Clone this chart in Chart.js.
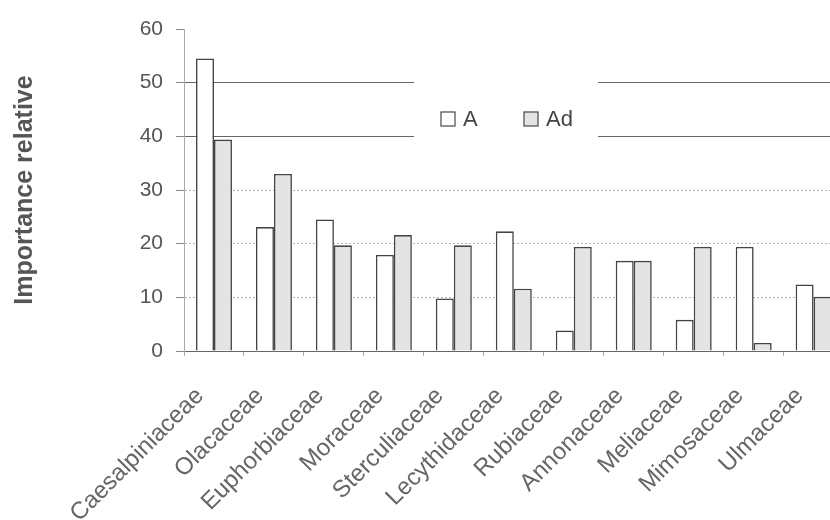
<!DOCTYPE html>
<html><head><meta charset="utf-8">
<script src="https://cdn.jsdelivr.net/npm/chart.js@4/dist/chart.umd.min.js"></script>
<style>html,body{margin:0;padding:0;overflow:hidden;background:#fff;width:830px;height:520px}canvas{display:block}</style>
</head><body>
<canvas id="c" width="860" height="520"></canvas>
<script>
const categories = ['Caesalpiniaceae','Olacaceae','Euphorbiaceae','Moraceae','Sterculiaceae','Lecythidaceae','Rubiaceae','Annonaceae','Meliaceae','Mimosaceae','Ulmaceae'];
const seriesA  = [54.5, 23.1, 24.5, 17.9, 9.8, 22.3, 3.8, 16.8, 5.8, 19.4, 12.4];
const seriesAd = [39.4, 33.0, 19.7, 21.6, 19.7, 11.6, 19.4, 16.8, 19.4, 1.5, 10.1];
const seriesNames = ['A', 'Ad'];
const yTickValues = [0, 10, 20, 30, 40, 50, 60];
const yTitle = 'Importance relative';

const legendPlugin = {
  id: 'boxLegend',
  afterDatasetsDraw(chart) {
    const ctx = chart.ctx;
    ctx.save();
    ctx.fillStyle = '#ffffff';
    ctx.fillRect(414, 74, 184, 70);
    const xs = [441, 524];
    chart.data.datasets.forEach((ds, i) => {
      ctx.fillStyle = ds.backgroundColor;
      ctx.strokeStyle = '#555';
      ctx.lineWidth = 1.3;
      ctx.fillRect(xs[i], 112, 14, 14);
      ctx.strokeRect(xs[i], 112, 14, 14);
      ctx.fillStyle = '#444';
      ctx.font = '22px "Liberation Sans", Arial, sans-serif';
      ctx.textBaseline = 'alphabetic';
      ctx.textAlign = 'left';
      ctx.fillText(ds.label, xs[i] + 22, 126);
    });
    ctx.restore();
  }
};

new Chart(document.getElementById('c'), {
  type: 'bar',
  data: {
    labels: categories,
    datasets: [
      { label: seriesNames[0], data: seriesA, backgroundColor: '#ffffff', borderColor: '#444', borderWidth: 1.6 },
      { label: seriesNames[1], data: seriesAd, backgroundColor: '#e4e4e4', borderColor: '#444', borderWidth: 1.6 }
    ]
  },
  options: {
    responsive: false,
    animation: false,
    devicePixelRatio: 1,
    layout: { padding: { left: 0, right: 0, top: 29, bottom: 0 } },
    datasets: { bar: { categoryPercentage: 0.6, barPercentage: 1.0 } },
    plugins: { legend: { display: false }, tooltip: { enabled: false } },
    scales: {
      x: {
        afterFit(scale) { scale.height = 169; },
        grid: { offset: true, drawOnChartArea: false, drawTicks: true, tickLength: 5, color: '#aaa' },
        border: { color: '#666', width: 1 },
        ticks: {
          minRotation: 45, maxRotation: 45, autoSkip: false,
          padding: 26, labelOffset: -14,
          color: '#666',
          font: { family: '"Liberation Sans", Arial, sans-serif', size: 24 }
        }
      },
      y: {
        min: 0, max: 60,
        afterFit(scale) { scale.width = 184; },
        afterBuildTicks(scale) { scale.ticks = yTickValues.map(v => ({ value: v })); },
        grid: {
          color: ctx => {
            const v = ctx.tick ? ctx.tick.value : 0;
            if (v === 0 || v === 60) return 'rgba(0,0,0,0)';
            return v >= 40 ? '#666' : '#b5b5b5';
          },
          tickColor: '#888',
          tickLength: 8,
          lineWidth: 1
        },
        border: { color: '#aaa', dash: ctx => (ctx.tick && ctx.tick.value >= 40 ? [] : [2, 2]) },
        ticks: {
          padding: 13,
          color: '#555',
          font: { family: '"Liberation Sans", Arial, sans-serif', size: 21 }
        },
        title: {
          display: true,
          text: yTitle,
          color: '#555',
          padding: { top: 10, bottom: 0 },
          font: { family: '"Liberation Sans", Arial, sans-serif', size: 25, weight: 'bold' }
        }
      }
    }
  },
  plugins: [legendPlugin]
});
</script>
</body></html>
